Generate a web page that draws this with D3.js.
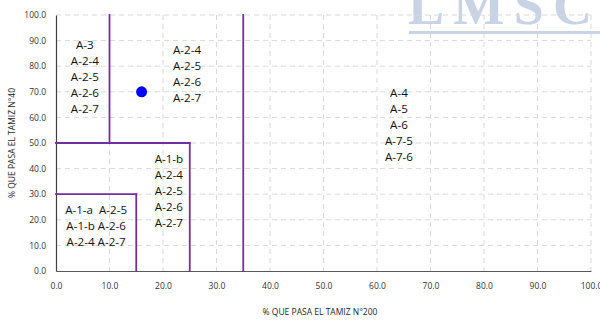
<!DOCTYPE html>
<html><head><meta charset="utf-8">
<script src="https://cdn.jsdelivr.net/npm/d3@7"></script>
<style>body{margin:0;background:#fff}svg{display:block}</style>
</head><body>
<svg id="c" width="600" height="320"></svg>
<script>
const xTicks = [0,10,20,30,40,50,60,70,80,90,100];
const yTicks = [0,10,20,30,40,50,60,70,80,90,100];
// boundary segments [x1,y1,x2,y2]
const boundaries = [
  [10,50,10,100],
  [0,50,25,50],
  [25,0,25,50],
  [0,30,15,30],
  [15,0,15,30],
  [35,0,35,100]
];
const samplePoint = [{x:16, y:70}];
// zone label groups: anchor x, top y (data units), lines
const zoneLabels = [
  {x:5.4, y:87.9, lines:["A-3","A-2-4","A-2-5","A-2-6","A-2-7"]},
  {x:24.5, y:85.9, lines:["A-2-4","A-2-5","A-2-6","A-2-7"]},
  {x:64.1, y:69.1, lines:["A-4","A-5","A-6","A-7-5","A-7-6"]},
  {x:21.1, y:43.4, lines:["A-1-b","A-2-4","A-2-5","A-2-6","A-2-7"]},
  {x:7.5, y:23.4, lines:["A-1-a  A-2-5","A-1-b A-2-6","A-2-4 A-2-7"]}
];
const xTitle = "% QUE PASA EL TAMIZ N°200";
const yTitle = "% QUE PASA EL TAMIZ N°40";

const svg = d3.select("#c");
const L=56, R=591, T=15, B=271;
const x = d3.scaleLinear().domain([0,100]).range([L,R]);
const y = d3.scaleLinear().domain([0,100]).range([B,T]);
const font = "'Open Sans', 'Liberation Sans', sans-serif";

// watermark
const wm = svg.append("g");
wm.append("text").attr("x",408).attr("y",24).attr("textLength",184).attr("lengthAdjust","spacing")
  .attr("font-family","'Liberation Serif', serif").attr("font-size",54).attr("font-weight","bold")
  .attr("fill","#c8d3e6").text("LMSC");
wm.append("rect").attr("x",409).attr("y",31).attr("width",191).attr("height",3).attr("fill","#c8d3e6");

// grid
svg.append("g").selectAll("line").data(xTicks.filter(d=>d>0)).join("line")
  .attr("x1",d=>x(d)).attr("x2",d=>x(d)).attr("y1",T).attr("y2",B)
  .attr("stroke","#d9d9d9").attr("stroke-dasharray","5,4").attr("stroke-width",1);
svg.append("g").selectAll("line").data(yTicks.filter(d=>d>0)).join("line")
  .attr("x1",L).attr("x2",R).attr("y1",d=>y(d)).attr("y2",d=>y(d))
  .attr("stroke","#d9d9d9").attr("stroke-dasharray","5,4").attr("stroke-width",1);

// axes
const xAxis = svg.append("g").attr("transform",`translate(0,${B})`)
  .call(d3.axisBottom(x).tickValues(xTicks).tickFormat(d3.format(".1f")).tickSize(0).tickPadding(12));
xAxis.select(".domain").attr("stroke","#595959").attr("stroke-width",1.2);
const yAxis = svg.append("g").attr("transform",`translate(${L},0)`)
  .call(d3.axisLeft(y).tickValues(yTicks).tickFormat(d3.format(".1f")).tickSize(0).tickPadding(10));
yAxis.select(".domain").attr("stroke","#404040").attr("stroke-width",1.2);
svg.selectAll(".tick text").attr("font-family",font).attr("font-size",8.5).attr("fill","#333");

// boundaries
svg.append("g").selectAll("line").data(boundaries).join("line")
  .attr("x1",d=>x(d[0])).attr("y1",d=>y(d[1])).attr("x2",d=>x(d[2])).attr("y2",d=>y(d[3]))
  .attr("stroke","#7030a0").attr("stroke-width",1.8).attr("stroke-linecap","square");

// labels
const lh = 15.9;
zoneLabels.forEach(g=>{
  const t = svg.append("text").attr("font-family",font).attr("font-size",11.6).attr("fill","#111")
    .attr("text-anchor","middle");
  g.lines.forEach((s,i)=>{
    t.append("tspan").attr("x",x(g.x)).attr("y",y(g.y)+i*lh).attr("dominant-baseline","middle")
      .attr("xml:space","preserve").style("white-space","pre").text(s);
  });
});

// point
svg.append("g").selectAll("circle").data(samplePoint).join("circle")
  .attr("cx",d=>x(d.x)).attr("cy",d=>y(d.y)).attr("r",5.5).attr("fill","#0000ff");

// titles
svg.append("text").attr("x",320).attr("y",315).attr("text-anchor","middle")
  .attr("font-family",font).attr("font-size",8.5).attr("fill","#262626").text(xTitle);
svg.append("text").attr("transform",`translate(15,${(T+B)/2}) rotate(-90)`).attr("text-anchor","middle")
  .attr("font-family",font).attr("font-size",8.5).attr("fill","#262626").text(yTitle);
</script>
</body></html>
